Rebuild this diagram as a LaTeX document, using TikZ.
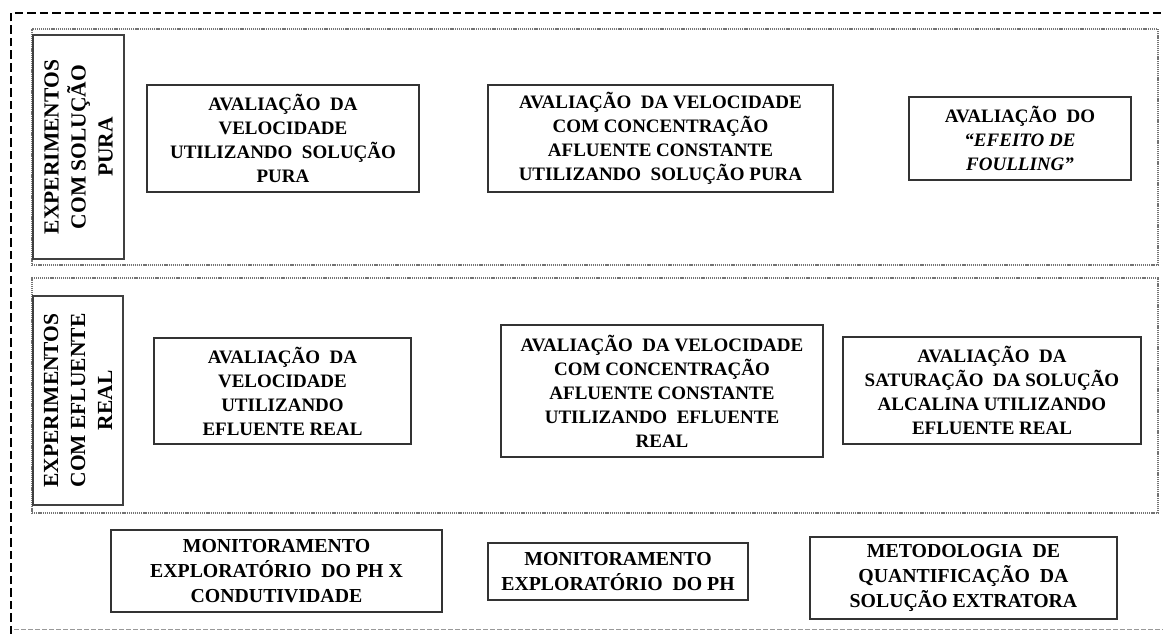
\documentclass[tikz,border=0pt]{standalone}
\usepackage{fontspec}
\setmainfont{Liberation Serif}
\begin{document}
\begin{tikzpicture}[x=1pt,y=-1pt,
  box/.style={draw=black!80,line width=1.3pt,inner sep=0pt,align=center,
    font=\bfseries\fontsize{19}{24}\selectfont},
  boxb/.style={box,font=\bfseries\fontsize{19.8}{25}\selectfont},
  sidebox/.style={draw=black!75,line width=1.3pt,inner sep=0pt},
  sidetext/.style={align=center,rotate=90,inner sep=0pt,
    font=\bfseries\fontsize{21.5}{27}\selectfont},
  group/.style={draw=black!55,line width=1.1pt,dash pattern=on 1.2pt off 0.9pt},
  outer/.style={draw=black,line width=2.9pt,dash pattern=on 8.5pt off 4pt}]
\useasboundingbox (0,0) rectangle (1163,634);
% outer frame
\draw[outer] (11,634) -- (11,13) -- (1163,13);
\draw[black!40,line width=0.8pt,dash pattern=on 5pt off 2pt] (14,629) -- (1163,629);
% groups
\node[group,minimum width=1126pt,minimum height=236pt,inner sep=0pt] (g1) at (595,147) {};
\node[group,minimum width=1126pt,minimum height=235pt,inner sep=0pt] (g2) at (595,395.5) {};
% side labels
\node[sidebox,minimum width=91pt,minimum height=224pt] (l1) at (78.5,147) {};
\node[sidetext] (t1) at (l1.center) {EXPERIMENTOS\\COM SOLUÇÃO\\PURA};
\node[sidebox,minimum width=90pt,minimum height=209pt] (l2) at (78,400.5) {};
\node[sidetext] (t2) at (l2.center) {EXPERIMENTOS\\COM EFLUENTE\\REAL};
% row 1
\node[box,minimum width=272pt,minimum height=107pt] (a1) at (283,138.5)
  {AVALIAÇÃO\ \ DA\\VELOCIDADE\\UTILIZANDO\ \ SOLUÇÃO\\PURA};
\node[box,minimum width=345pt,minimum height=107pt] (a2) at (660.5,138.5)
  {AVALIAÇÃO\ \ DA VELOCIDADE\\COM CONCENTRAÇÃO\\AFLUENTE CONSTANTE\\UTILIZANDO\ \ SOLUÇÃO PURA};
\node[box,minimum width=222pt,minimum height=83pt] (a3) at (1020,138.5)
  {AVALIAÇÃO\ \ DO\\\textit{“EFEITO DE}\\\textit{FOULLING”}};
% row 2
\node[box,minimum width=257pt,minimum height=106pt] (b1) at (282.5,391)
  {AVALIAÇÃO\ \ DA\\VELOCIDADE\\UTILIZANDO\\EFLUENTE REAL};
\node[box,minimum width=322pt,minimum height=132pt] (b2) at (662,391)
  {AVALIAÇÃO\ \ DA VELOCIDADE\\COM CONCENTRAÇÃO\\AFLUENTE CONSTANTE\\UTILIZANDO\ \ EFLUENTE\\REAL};
\node[box,minimum width=298pt,minimum height=107pt] (b3) at (992,390.5)
  {AVALIAÇÃO\ \ DA\\SATURAÇÃO\ \ DA SOLUÇÃO\\ALCALINA UTILIZANDO\\EFLUENTE REAL};
% row 3
\node[boxb,minimum width=331pt,minimum height=82pt] (m1) at (276.5,571)
  {MONITORAMENTO\\EXPLORATÓRIO\ \ DO PH X\\CONDUTIVIDADE};
\node[boxb,minimum width=260pt,minimum height=57pt] (m2) at (618,571.5)
  {MONITORAMENTO\\EXPLORATÓRIO\ \ DO PH};
\node[boxb,minimum width=307pt,minimum height=82pt] (m3) at (963.5,578)
  {METODOLOGIA\ \ DE\\QUANTIFICAÇÃO\ \ DA\\SOLUÇÃO EXTRATORA};
\end{tikzpicture}
\end{document}
